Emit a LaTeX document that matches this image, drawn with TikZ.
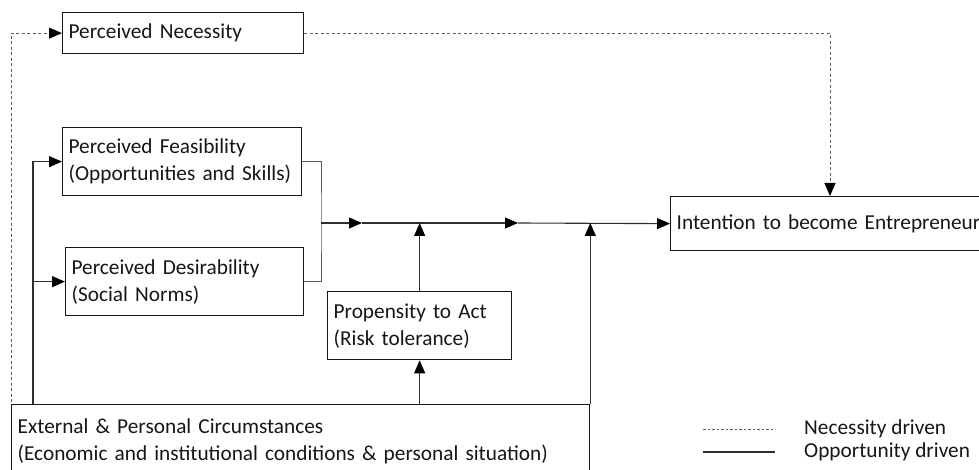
\documentclass[tikz,border=0pt]{standalone}
\usepackage{fontspec}
\setmainfont{Carlito}
\usetikzlibrary{arrows.meta,calc}
\definecolor{ink}{HTML}{161616}
\definecolor{linegray}{HTML}{2E2E2E}
\definecolor{dashgray}{HTML}{5E5E5E}
\tikzset{
  box/.style={draw=ink, line width=1.3pt, anchor=north west, inner xsep=6pt, inner ysep=0pt,
    align=left, text=ink, font=\fontsize{21.3}{27}\selectfont},
  conn/.style={draw=linegray, line width=1.1pt},
  thin/.style={draw=dashgray, line width=0.9pt},
  dashline/.style={draw=dashgray, line width=1pt, dash pattern=on 3pt off 2.5pt},
  tip/.style={-{Triangle[length=13pt,width=11pt,color=black]}},
  legtext/.style={anchor=west, text=ink, font=\fontsize{21.3}{27}\selectfont, inner sep=0pt}
}
\begin{document}
\begin{tikzpicture}[x=1pt,y=-1pt]
\useasboundingbox (0,0) rectangle (979,470);
\clip (0,0) rectangle (979,470);
% boxes
\node[box, minimum width=241pt, minimum height=41pt, text width=229pt] (pn) at (62,12) {Perceived Necessity};
\node[box, minimum width=239pt, minimum height=68pt, text width=227pt] (pf) at (62,127) {Perceived Feasibility\\(Opportunities and Skills)};
\node[box, minimum width=238pt, minimum height=68pt, text width=226pt] (pd) at (65,247) {Perceived Desirability\\(Social Norms)};
\node[box, minimum width=184pt, minimum height=68pt, text width=172pt] (pr) at (327,291) {Propensity to Act\\(Risk tolerance)};
\node[box, minimum width=360pt, minimum height=54pt, text width=348pt] (ie) at (670,196) {Intention to become Entrepreneur};
\node[box, minimum width=578pt, minimum height=74pt, text width=566pt] (ex) at (11,404) {External \& Personal Circumstances\\(Economic and institutional conditions \& personal situation)};
% coordinates
\coordinate (j) at (321,223);
\coordinate (m1) at (362,223);
\coordinate (m2) at (518,223);
\coordinate (ds) at (11,402);
\coordinate (it) at (830,196);
\coordinate (lv) at ($(ex.north west)+(22,0)$);
% necessity (dashed)
\draw[dashline, tip] (ds) |- (pn.west);
\draw[dashline, tip] (pn.east) -| (it);
% feasibility / desirability feeds
\draw[conn, tip] (lv) |- (pf.west);
\draw[conn, tip] (lv |- pd.west) -- (pd.west);
% bracket
\draw[thin] (pf.east) -| (j) |- (pd.east);
% main line
\draw[conn, tip] (j) -- (m1);
\draw[conn, tip] (m1) -- (m2);
\draw[conn, tip] (m2) -- (ie.west);
% propensity
\draw[conn, tip] (pr.north) -- (pr.north |- j);
\draw[conn, tip] (pr.south |- ex.north) -- (pr.south);
\draw[conn, line width=1.3pt, tip] (ex.north east) -- (ex.north east |- j);
% legend
\coordinate (l1a) at (703,429); \coordinate (l1b) at (775,429);
\coordinate (l2a) at (703,452); \coordinate (l2b) at (775,452);
\draw[dashline, line width=0.8pt, dash pattern=on 2.5pt off 2pt] (l1a) -- (l1b);
\draw[conn, line width=1.3pt] (l2a) -- (l2b);
\node[legtext] (n1) at (804,429) {Necessity driven};
\node[legtext] (n2) at (804,452) {Opportunity driven};
\end{tikzpicture}
\end{document}
